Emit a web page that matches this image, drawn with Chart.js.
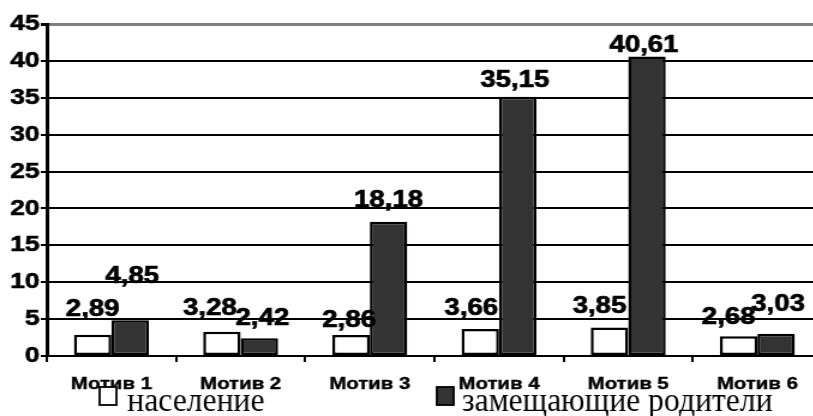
<!DOCTYPE html>
<html>
<head>
<meta charset="utf-8">
<script src="https://cdn.jsdelivr.net/npm/chart.js@4.4.1/dist/chart.umd.min.js"></script>
<style>
  html, body { margin: 0; padding: 0; background: #fff; overflow: hidden; }
  /* исходная картинка растянута по горизонтали */
  #wrap { position: absolute; left: 0; top: 0; width: 685px; height: 416px; transform: scaleX(1.2); transform-origin: 0 0; }
</style>
</head>
<body>
<div id="wrap"><canvas id="grafico"></canvas></div>
<script>
const motivos = ['Мотив 1', 'Мотив 2', 'Мотив 3', 'Мотив 4', 'Мотив 5', 'Мотив 6']
const naselenie = [2.89, 3.28, 2.86, 3.66, 3.85, 2.68]
const zameshchayushchie = [4.85, 2.42, 18.18, 35.15, 40.61, 3.03]
const nomesSeries = ['население', 'замещающие родители']
const ticksY = [0, 5, 10, 15, 20, 25, 30, 35, 40, 45]

const ESTICA = 1.2
const fonteSans = '"Liberation Sans", Arial, sans-serif'

// pequenos deslocamentos dos rotulos (px de tela), como no original
const ajusteRotulos = [
  [[0, -9], [-12, -7], [-2, 2], [-9, -4], [-10, -5], [-10, -2]],
  [[2, -27], [3, -3], [0, -5], [-3, 0], [-3, 6], [2, -13]]
]

const formata = v => v.toFixed(2).replace('.', ',')

const rotulosValores = {
  id: 'rotulosValores',
  afterDatasetsDraw(chart) {
    const ctx = chart.ctx
    ctx.save()
    ctx.font = 'bold 23px ' + fonteSans
    ctx.fillStyle = '#000'
    ctx.strokeStyle = '#000'
    ctx.lineWidth = 0.7
    ctx.textAlign = 'center'
    ctx.textBaseline = 'alphabetic'
    chart.data.datasets.forEach((ds, i) => {
      chart.getDatasetMeta(i).data.forEach((bar, j) => {
        const [dx, dy] = ajusteRotulos[i][j]
        const x = bar.x + dx / ESTICA
        const y = bar.y - 10 + dy
        ctx.fillText(formata(ds.data[j]), x, y)
        ctx.strokeText(formata(ds.data[j]), x, y)
      })
    })
    ctx.restore()
  }
}

const legendaPropria = {
  id: 'legendaPropria',
  afterDraw(chart) {
    const ctx = chart.ctx
    const caixaX = [83, 364]
    const textoX = [106, 385]
    ctx.save()
    chart.data.datasets.forEach((ds, i) => {
      ctx.fillStyle = ds.backgroundColor
      ctx.fillRect(caixaX[i], 387, 14, 18)
      ctx.strokeStyle = '#000'
      ctx.lineWidth = 1.8
      ctx.strokeRect(caixaX[i], 387, 14, 18)
      ctx.save()
      ctx.translate(textoX[i], 411)
      ctx.scale(0.8, 1)
      ctx.font = '33px "Liberation Serif", "Times New Roman", serif'
      ctx.fillStyle = '#000'
      ctx.textBaseline = 'alphabetic'
      ctx.fillText(ds.label, 0, 0)
      ctx.restore()
    })
    ctx.restore()
  }
}

new Chart(document.getElementById('grafico'), {
  type: 'bar',
  data: {
    labels: motivos,
    datasets: [
      {
        label: nomesSeries[0],
        data: naselenie,
        backgroundColor: '#ffffff',
        borderColor: '#000000',
        borderWidth: 2.5,
        borderSkipped: false,
        categoryPercentage: 0.58,
        barPercentage: 1
      },
      {
        label: nomesSeries[1],
        data: zameshchayushchie,
        backgroundColor: '#333333',
        borderColor: '#000000',
        borderWidth: 2.5,
        borderSkipped: false,
        categoryPercentage: 0.58,
        barPercentage: 1
      }
    ]
  },
  options: {
    responsive: true,
    maintainAspectRatio: false,
    animation: false,
    layout: { padding: { top: 24, left: 0, right: 0, bottom: 0 } },
    plugins: {
      legend: { display: false },
      tooltip: { enabled: false }
    },
    scales: {
      x: {
        afterFit: s => { s.height = 60 },
        border: { color: '#000', width: 2 },
        grid: { offset: true, drawOnChartArea: false, tickLength: 6, color: '#000', lineWidth: 2 },
        ticks: {
          color: '#000', padding: 12, textStrokeColor: '#000', textStrokeWidth: 0.4,
          font: { family: fonteSans, size: 17, weight: 'bold' }
        }
      },
      y: {
        min: 0,
        max: 45,
        afterBuildTicks: s => { s.ticks = ticksY.map(v => ({ value: v })) },
        afterFit: s => { s.width = 39 },
        border: { color: '#000', width: 3 },
        grid: {
          color: c => c.tick && c.tick.value === 45 ? '#808080' : '#000',
          lineWidth: c => c.tick && c.tick.value === 45 ? 3 : 2,
          tickLength: 5,
          tickColor: '#000'
        },
        ticks: {
          color: '#000', padding: 1, textStrokeColor: '#000', textStrokeWidth: 0.6,
          font: { family: fonteSans, size: 22, weight: 'bold' }
        }
      }
    }
  },
  plugins: [rotulosValores, legendaPropria]
})
</script>
</body>
</html>
